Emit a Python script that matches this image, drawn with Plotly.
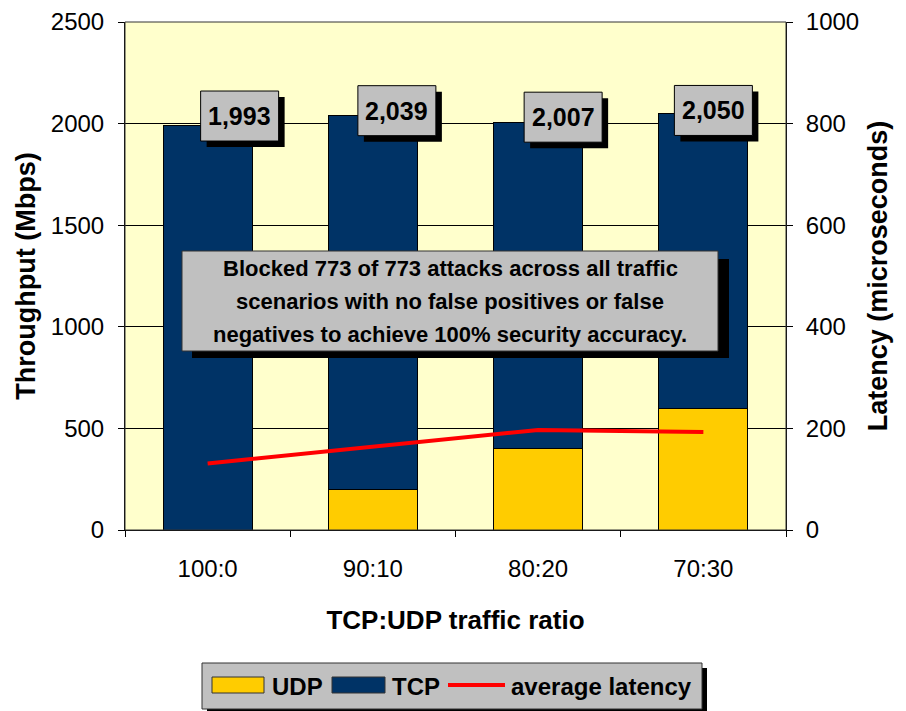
import plotly.graph_objects as go

categories = ["100:0", "90:10", "80:20", "70:30"]
udp = [0, 198, 401, 600]
tcp = [1993, 1841, 1606, 1450]
totals = [1993, 2039, 2007, 2050]
latency = [131, 164, 197, 193]
total_labels = ["1,993", "2,039", "2,007", "2,050"]
note_lines = [
    "Blocked 773 of 773 attacks across all traffic",
    "scenarios with no false positives or false",
    "negatives to achieve 100% security accuracy.",
]
series_names = ["UDP", "TCP", "average latency"]

W, H = 906, 711
OFF = 8  # page body margin in the browser
L, R, T, B = 125 - OFF, 786 - OFF, 22 - OFF, 530 - OFF
FONT = "Arial, Liberation Sans, sans-serif"
UDP_C, TCP_C, LAT_C, BOX_C = "#FFCC00", "#003366", "#FF0000", "#C0C0C0"


def px(x):
    # x given in screen pixels of the reference
    return (x - OFF - L) / (R - L)


def py(y):
    return (B - (y - OFF)) / (B - T)


fig = go.Figure()
fig.add_trace(go.Bar(x=categories, y=udp, name=series_names[0], showlegend=False,
                     marker=dict(color=UDP_C, line=dict(color="black", width=1))))
fig.add_trace(go.Bar(x=categories, y=tcp, name=series_names[1], showlegend=False,
                     marker=dict(color=TCP_C, line=dict(color="black", width=1))))
fig.add_trace(go.Scatter(x=categories, y=latency, name=series_names[2], yaxis="y2",
                         mode="lines", showlegend=False, line=dict(color=LAT_C, width=4)))

annotations = []
shapes = []

# value label boxes (pixel-sized, anchored at bar totals)
label_offsets = [(32, 9), (24, 5), (25, 5), (10, 3)]
for i, (tot, lab, (dx, dy)) in enumerate(zip(totals, total_labels, label_offsets)):
    for shadow in (True, False):
        s = 6 if shadow else 0
        shapes.append(dict(type="rect", xref="x", yref="y", xsizemode="pixel", ysizemode="pixel",
                           xanchor=i, yanchor=tot,
                           x0=dx - 39 + s, x1=dx + 39 + s, y0=dy - 25 - s, y1=dy + 25 - s,
                           fillcolor="black" if shadow else BOX_C,
                           line=dict(color="black", width=0 if shadow else 1), layer="above"))
    annotations.append(dict(x=i, y=tot, xref="x", yref="y", text="<b>%s</b>" % lab, showarrow=False,
                            xshift=dx, yshift=dy, font=dict(family=FONT, size=25, color="black")))

# note box
shapes += [
    dict(type="rect", xref="paper", yref="paper", x0=px(192), x1=px(729), y0=py(259), y1=py(358),
         fillcolor="black", line=dict(width=0), layer="above"),
    dict(type="rect", xref="paper", yref="paper", x0=px(182), x1=px(718), y0=py(251), y1=py(351),
         fillcolor=BOX_C, line=dict(color="#333333", width=1), layer="above"),
    dict(type="rect", xref="paper", yref="paper", x0=0, x1=1, y0=0, y1=1,
         line=dict(color="#333333", width=1), layer="above"),
]
for t, yy in zip(note_lines, [268, 301, 334]):
    annotations.append(dict(x=px(450), y=py(yy), xref="paper", yref="paper", text="<b>%s</b>" % t,
                            showarrow=False, font=dict(family=FONT, size=22, color="black"),
                            xanchor="center", yanchor="middle"))

# legend (drawn by hand)
shapes += [
    dict(type="rect", xref="paper", yref="paper", x0=px(207), x1=px(707), y0=py(668), y1=py(716),
         fillcolor="black", line=dict(width=0), layer="above"),
    dict(type="rect", xref="paper", yref="paper", x0=px(202), x1=px(702), y0=py(663), y1=py(709),
         fillcolor=BOX_C, line=dict(color="#333333", width=1), layer="above"),
    dict(type="rect", xref="paper", yref="paper", x0=px(212), x1=px(264), y0=py(677), y1=py(693),
         fillcolor=UDP_C, line=dict(color="#333333", width=1), layer="above"),
    dict(type="rect", xref="paper", yref="paper", x0=px(332), x1=px(385), y0=py(677), y1=py(693),
         fillcolor=TCP_C, line=dict(color="#333333", width=1), layer="above"),
    dict(type="line", xref="paper", yref="paper", x0=px(448), x1=px(505), y0=py(685), y1=py(685),
         line=dict(color=LAT_C, width=4), layer="above"),
]
for name, xx in zip(series_names, [270, 390, 509]):
    annotations.append(dict(x=px(xx), y=py(686), xref="paper", yref="paper", text="<b>%s</b>" % name,
                            showarrow=False, xanchor="left", yanchor="middle",
                            font=dict(family=FONT, size=24, color="black")))

fig.update_layout(
    width=W, height=H,
    margin=dict(l=L, r=W - R, t=T, b=H - B, autoexpand=False),
    paper_bgcolor="white", plot_bgcolor="#FFFFCC",
    barmode="stack", bargap=0.46, showlegend=False,
    font=dict(family=FONT, size=24, color="black"),
    xaxis=dict(title=dict(text="<b>TCP:UDP traffic ratio</b>", font=dict(size=26), standoff=30),
               automargin=False,
               ticks="outside", tickson="boundaries", ticklen=6, tickcolor="black",
               ticklabelstandoff=17,
               showline=True, linecolor="black", tickfont=dict(size=24), range=[-0.5, 3.5]),
    yaxis=dict(title=dict(text="<b>Throughput (Mbps)</b>", font=dict(size=27), standoff=7),
               automargin=False,
               range=[0, 2500], dtick=500, ticks="outside", ticklen=6, tickcolor="black",
               ticklabelstandoff=9,
               showline=True, linecolor="black", showgrid=True, gridcolor="black", gridwidth=1,
               zeroline=False, tickfont=dict(size=24)),
    yaxis2=dict(title=dict(text="<b>Latency (microseconds)</b>", font=dict(size=27), standoff=9),
                automargin=False,
                overlaying="y", side="right", range=[0, 1000], dtick=200, ticks="outside",
                ticklen=6, tickcolor="black", ticklabelstandoff=8,
                showline=True, linecolor="black", showgrid=False,
                zeroline=False, tickfont=dict(size=24)),
    annotations=annotations,
    shapes=shapes,
)
fig.write_html("out.html")
